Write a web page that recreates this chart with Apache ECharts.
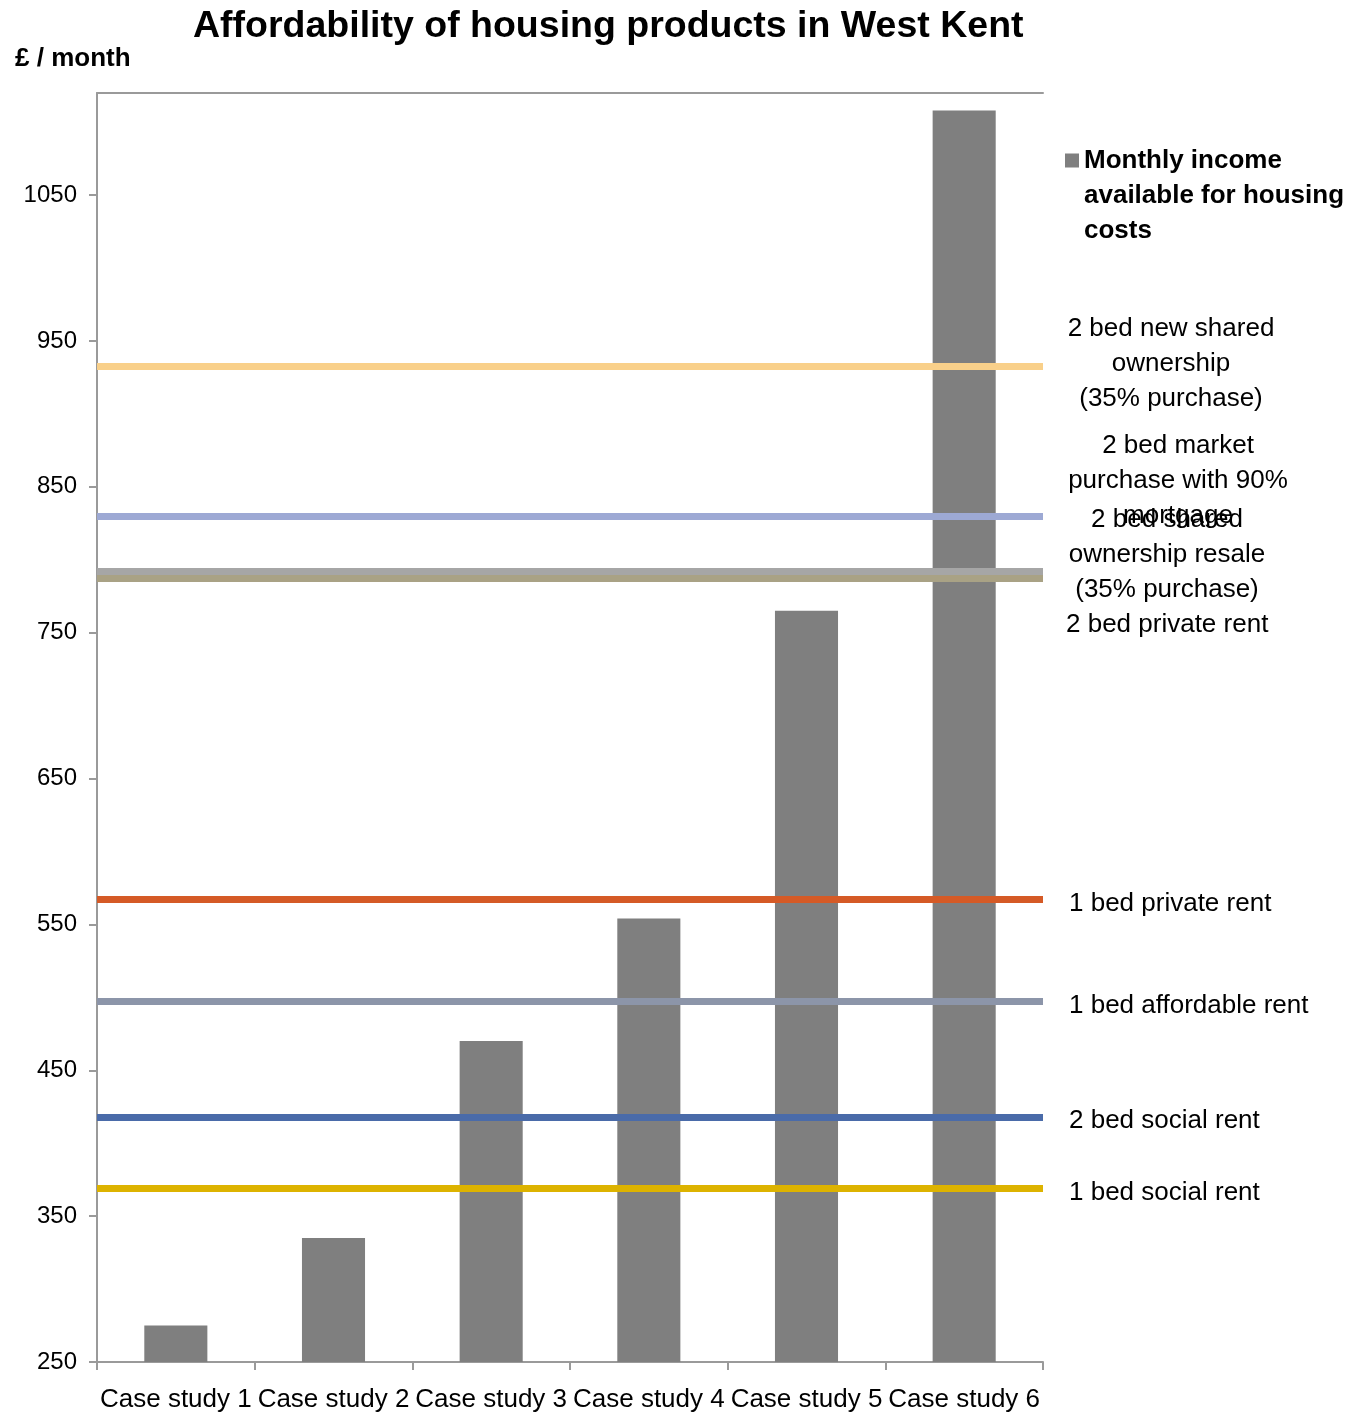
<!DOCTYPE html>
<html>
<head>
<meta charset="utf-8">
<title>Affordability of housing products in West Kent</title>
<script src="https://cdn.jsdelivr.net/npm/echarts@6/dist/echarts.min.js"></script>
<style>
  html, body { margin: 0; padding: 0; background: #ffffff; }
  #chart { width: 1364px; height: 1416px; }
</style>
</head>
<body>
<div id="chart"></div>
<script>
// Case studies along the x axis
const categories = ['Case study 1', 'Case study 2', 'Case study 3', 'Case study 4', 'Case study 5', 'Case study 6'];

// Monthly income available for housing costs (£ / month)
const incomeName = 'Monthly income available for housing costs';
const incomeLegendLines = ['Monthly income', 'available for housing', 'costs'];
const income = [275, 335, 470, 554, 765, 1108];

// Monthly cost of each housing product (£ / month)
const productNames = [
  '2 bed new shared\nownership\n(35% purchase)',
  '2 bed market\npurchase with 90%\nmortgage',
  '2 bed shared\nownership resale\n(35% purchase)',
  '2 bed private rent',
  '1 bed private rent',
  '1 bed affordable rent',
  '2 bed social rent',
  '1 bed social rent'
];
const productCosts = [933, 830, 792, 787, 567, 497, 418, 369];

// Value axis range and tick step
const yMin = 250;
const yMax = 1120;
const yStep = 100;

// Line colours for the housing products
const productColors = ['#F9D08A', '#9DA9D4', '#A6A6A6', '#A9A285', '#D55A26', '#8C95A9', '#4A6BA9', '#DDB300'];

// Label placement beside each product line: [anchor x, vertical shift, text align]
const labelPlacement = [
  [1171, -2, 'center'],
  [1178, -35, 'center'],
  [1167, -17, 'center'],
  [1066, 46, 'left'],
  [1069, 4, 'left'],
  [1069, 4, 'left'],
  [1069, 4, 'left'],
  [1069, 4, 'left']
];

const FONT = '"Liberation Sans", Arial, Helvetica, sans-serif';
const AXIS_GREY = '#9a9a9a';

const chart = echarts.init(document.getElementById('chart'), null, { renderer: 'canvas' });

chart.setOption({
  animation: false,
  backgroundColor: '#ffffff',
  title: [
    {
      text: 'Affordability of housing products in West Kent',
      left: 188,
      top: 3,
      textStyle: { fontFamily: FONT, fontSize: 37.5, fontWeight: 'bold', color: '#000000' }
    },
    {
      text: '£ / month',
      left: 10,
      top: 41,
      textStyle: { fontFamily: FONT, fontSize: 26, fontWeight: 'bold', color: '#000000' }
    }
  ],
  legend: {
    data: [incomeName],
    left: 1060,
    top: 68,
    orient: 'vertical',
    icon: 'rect',
    itemWidth: 14,
    itemHeight: 14,
    selectedMode: false,
    // two blank lines ahead of the text keep the swatch level with the first line
    formatter: () => '\n\n' + incomeLegendLines.join('\n'),
    textStyle: {
      fontFamily: FONT,
      fontSize: 26,
      fontWeight: 'bold',
      color: '#000000',
      lineHeight: 35
    }
  },
  grid: { left: 97, right: 321, top: 93, bottom: 54, containLabel: false },
  xAxis: [
    {
      type: 'category',
      data: categories,
      position: 'bottom',
      axisLine: { show: true, lineStyle: { color: AXIS_GREY, width: 2 } },
      axisTick: { show: true, length: 8, lineStyle: { color: AXIS_GREY, width: 2 } },
      axisLabel: { fontFamily: FONT, fontSize: 26, color: '#000000', margin: 25, interval: 0 }
    },
    {
      type: 'category',
      data: categories,
      position: 'top',
      axisLine: { show: true, lineStyle: { color: AXIS_GREY, width: 2 } },
      axisTick: { show: false },
      axisLabel: { show: false }
    }
  ],
  yAxis: {
    type: 'value',
    min: yMin,
    max: yMax,
    interval: yStep,
    axisLine: { show: true, lineStyle: { color: AXIS_GREY, width: 2 } },
    axisTick: { show: true, length: 8, lineStyle: { color: AXIS_GREY, width: 2 } },
    splitLine: { show: false },
    axisLabel: {
      fontFamily: FONT,
      fontSize: 24,
      color: '#000000',
      margin: 20,
      showMaxLabel: false,
      formatter: (v) => String(v)
    }
  },
  series: [
    {
      name: incomeName,
      type: 'bar',
      data: income,
      barWidth: '40%',
      itemStyle: { color: '#7f7f7f' },
      z: 2
    },
    {
      name: 'Housing product costs',
      type: 'line',
      data: [],
      z: 5,
      markLine: {
        silent: true,
        symbol: ['none', 'none'],
        label: { show: false },
        lineStyle: { type: 'solid', width: 7 },
        data: productCosts.map((v, i) => ({
          name: productNames[i],
          yAxis: v,
          lineStyle: { color: productColors[i], type: 'solid', width: 7 }
        }))
      }
    }
  ]
});

// Product names beside the right end of each cost line
const labels = productCosts.map((v, i) => {
  const y = chart.convertToPixel({ yAxisIndex: 0 }, v);
  const [x, dy, align] = labelPlacement[i];
  return {
    type: 'text',
    x: x,
    y: y + dy,
    z: 10,
    style: {
      text: productNames[i],
      fontFamily: FONT,
      fontSize: 26,
      lineHeight: 35,
      fill: '#000000',
      align: align,
      verticalAlign: 'middle'
    }
  };
});
chart.setOption({ graphic: labels });
</script>
</body>
</html>
